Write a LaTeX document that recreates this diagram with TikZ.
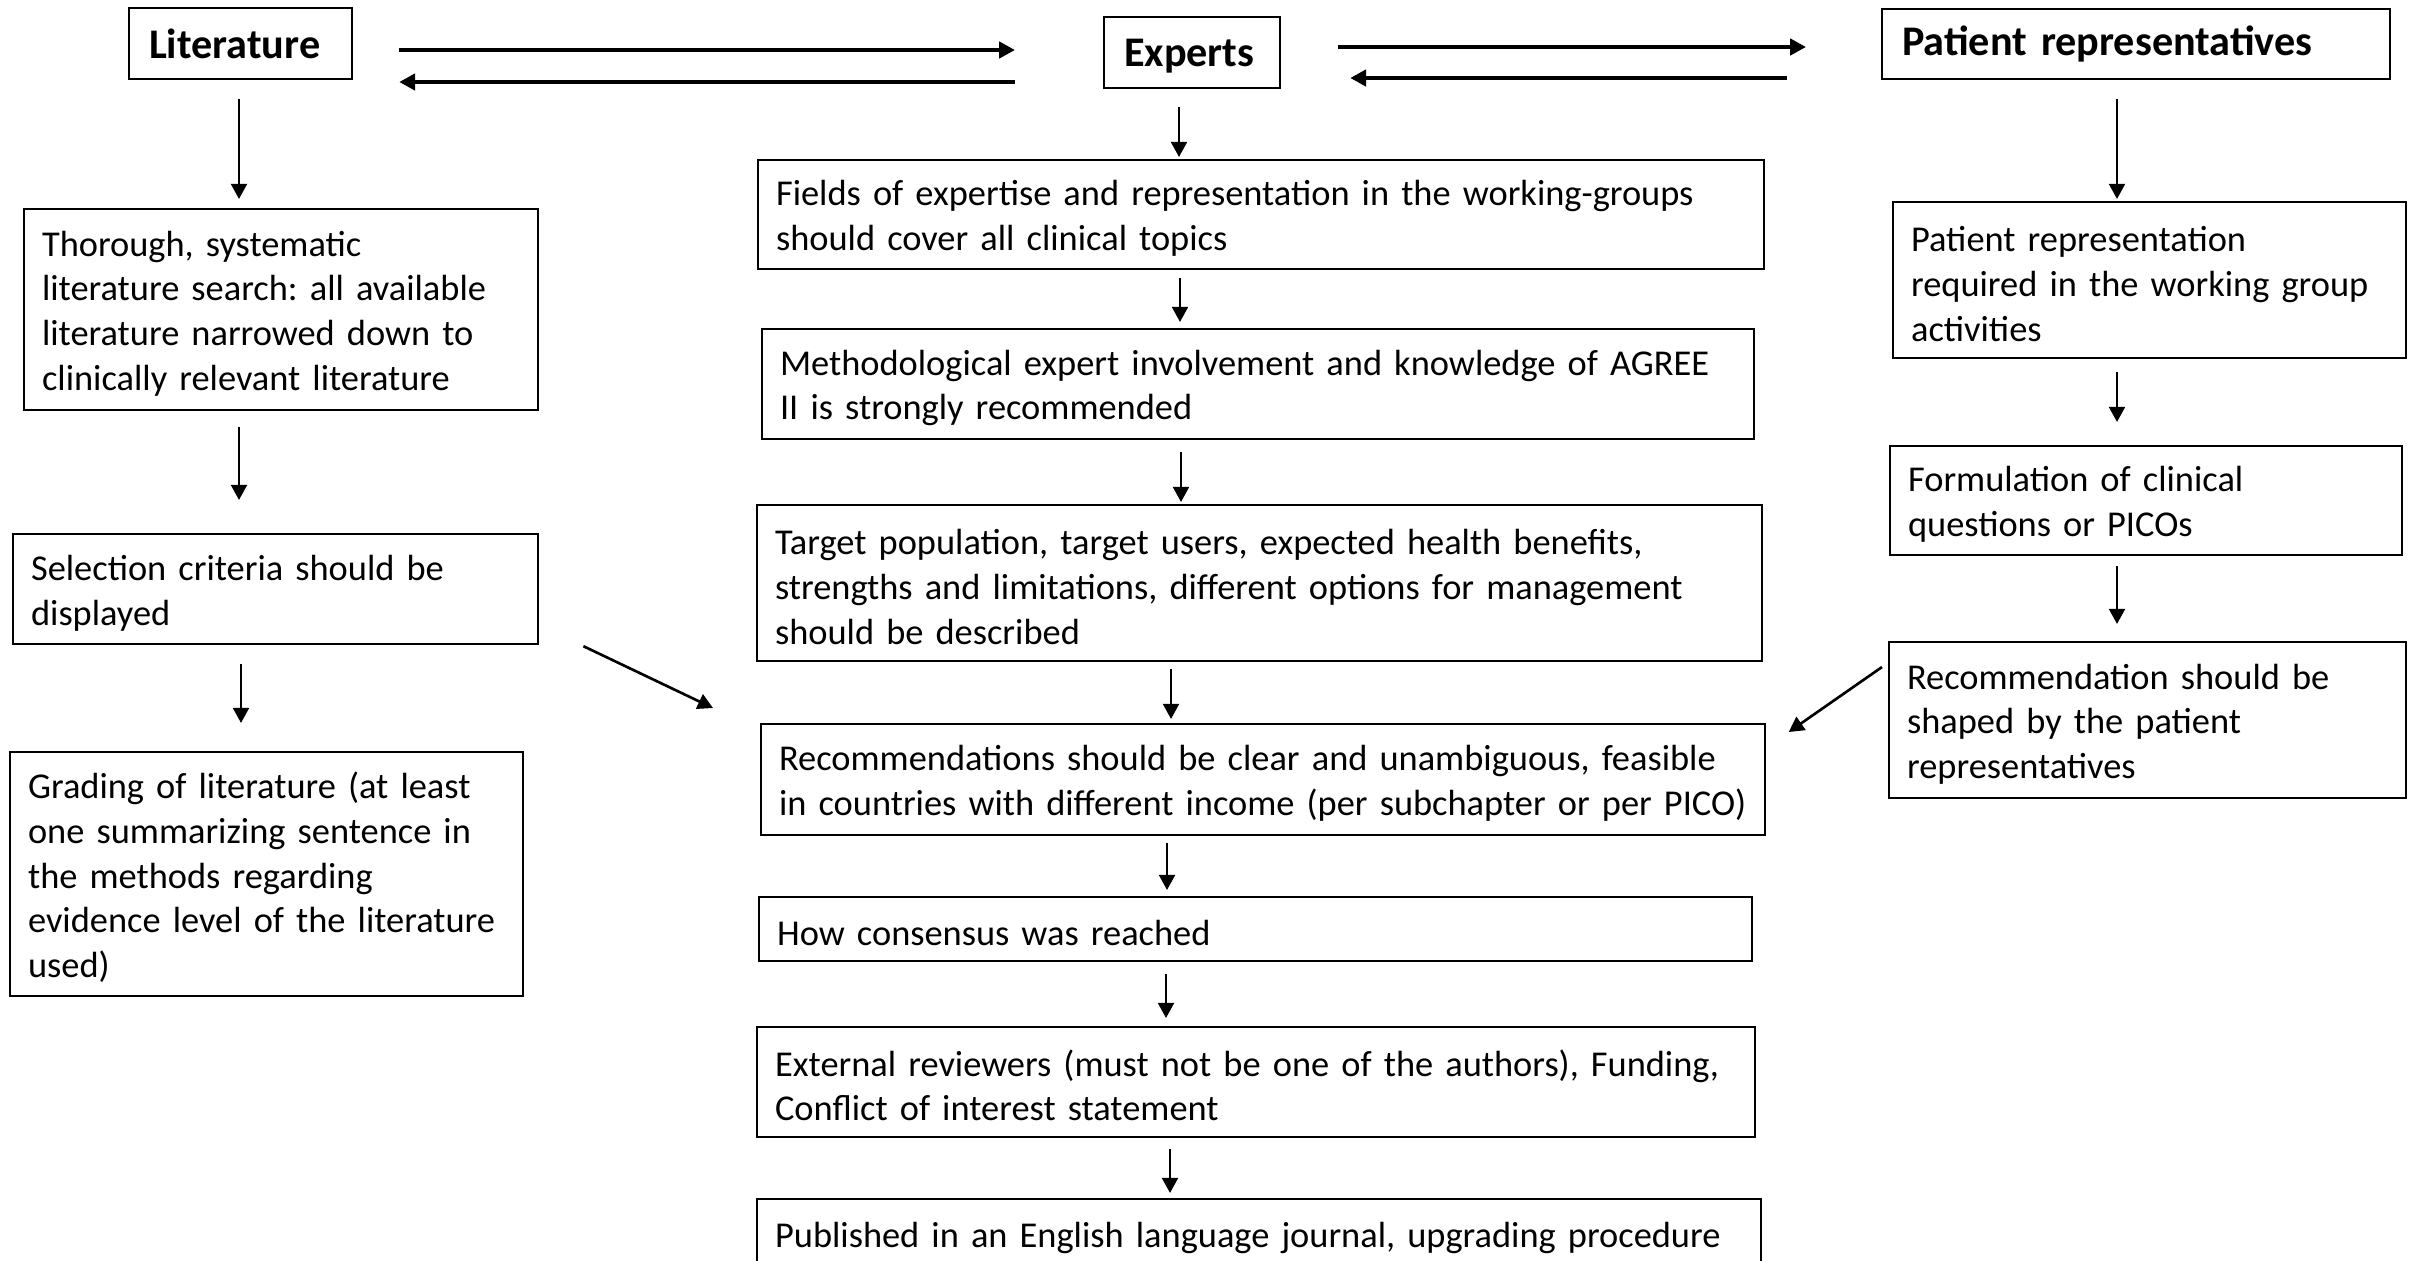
\documentclass[tikz,border=0pt]{standalone}
\usepackage{fontspec}
\setmainfont{Carlito}
\usepackage{tikz}
\usetikzlibrary{positioning,calc,arrows.meta}
\frenchspacing

\tikzset{
    head/.style={draw, line width=0.6pt, anchor=north west, align=left, inner xsep=0.2cm,
        font=\fontsize{12}{14}\selectfont\bfseries},
    card/.style={draw, line width=0.6pt, anchor=north west, align=left, inner xsep=0.18cm,
        inner ysep=1pt, text height=9.4pt, font=\fontsize{10.35}{12.7}\selectfont},
    arr/.style={-{Triangle[length=4.3pt,width=4.5pt]}, line width=0.75pt},
    duo/.style={-{Triangle[length=4.5pt,width=4.6pt]}, line width=1.1pt}
}

\begin{document}
\begin{tikzpicture}[x=0.01cm, y=-0.01cm]
    \useasboundingbox (0,0) rectangle (2415,1260);

    % Headers
    \node[head, text width=1.83cm, minimum height=0.71cm] (lit) at (128,7) {Literature};
    \node[head, text width=1.36cm, minimum height=0.71cm, text height=9.6pt] (exp) at (1103,16) {Experts};
    \node[head, text width=4.68cm, minimum height=0.70cm] (pat) at (1881,8) {Patient representatives};

    % Literature column
    \node[card, text width=4.78cm, minimum height=2.01cm] (l1) at (23,208)
        {Thorough, systematic\\literature search: all available\\literature narrowed down to\\clinically relevant literature};
    \node[card, text width=4.89cm, minimum height=1.10cm] (l2) at (12,533)
        {Selection criteria should be\\displayed};
    \node[card, text width=4.77cm, minimum height=2.44cm] (l3) at (9,751)
        {Grading of literature (at least\\one summarizing sentence in\\the methods regarding\\evidence level of the literature\\used)};

    % Experts column
    \node[card, text width=9.69cm, minimum height=1.09cm] (m1) at (757,159)
        {Fields of expertise and representation in the working-groups\\should cover all clinical topics};
    \node[card, text width=9.55cm, minimum height=1.10cm] (m2) at (761,328)
        {Methodological expert involvement and  knowledge of AGREE\\II is strongly recommended};
    \node[card, text width=9.68cm, minimum height=1.56cm] (m3) at (756,504)
        {Target population, target users, expected health benefits,\\strengths and limitations, different options for management\\should be described};
    \node[card, text width=9.67cm, minimum height=1.11cm] (m4) at (760,723)
        {Recommendations should be clear and unambiguous, feasible\\in countries with different income (per subchapter or per PICO)};
    \node[card, text width=9.56cm, minimum height=0.64cm] (m5) at (758,896)
        {How consensus was reached};
    \node[card, text width=9.61cm, minimum height=1.10cm] (m6) at (756,1026)
        {External reviewers (must not be one of the authors), Funding,\\Conflict of interest statement};
    \node[card, text width=9.67cm, minimum height=0.70cm] (m7) at (756,1198)
        {Published in an English language journal, upgrading procedure};

    % Patient column
    \node[card, text width=4.77cm, minimum height=1.56cm] (r1) at (1892,201)
        {Patient representation\\required in the working group\\activities};
    \node[card, text width=4.76cm, minimum height=1.09cm] (r2) at (1889,445)
        {Formulation of clinical\\questions or PICOs};
    \node[card, text width=4.81cm, minimum height=1.56cm] (r3) at (1888,641)
        {Recommendation should be\\shaped by the patient\\representatives};

    % Arrows between headers
    \draw[duo, shorten <=0.46cm, shorten >=0.88cm] (lit.east |- 0,50) -- (exp.west |- 0,50);
    \draw[duo, shorten <=0.88cm, shorten >=0.46cm] (exp.west |- 0,82) -- (lit.east |- 0,82);
    \draw[duo, shorten <=0.57cm, shorten >=0.75cm] (exp.east |- 0,47) -- (pat.west |- 0,47);
    \draw[duo, shorten <=0.94cm, shorten >=0.69cm] (pat.west |- 0,78) -- (exp.east |- 0,78);

    % Down arrows
    \foreach \a/\b/\x/\s/\e in {lit/l1/239/0.19/0.09, l1/l2/239/0.16/0.33, l2/l3/241/0.19/0.28,
        exp/m1/1179/0.18/0.02, m1/m2/1180/0.08/0.06, m2/m3/1181/0.12/0.02, m3/m4/1171/0.07/0.04,
        m4/m5/1167/0.07/0.06, m5/m6/1166/0.12/0.08, m6/m7/1170/0.11/0.05,
        pat/r1/2117/0.19/0.02, r1/r2/2117/0.13/0.23, r2/r3/2117/0.10/0.17} {
        \draw[arr, shorten <=\s cm, shorten >=\e cm] (\a.south -| \x,0) -- (\b.north -| \x,0);
    }

    % Side arrows into recommendations
    \draw[arr] ([shift={(44,1)}]l2.south east) -- ([shift={(-47,-15)}]m4.north west);
    \draw[arr] ([shift={(-6,26)}]r3.north west) -- ([shift={(23,9)}]m4.north east);
\end{tikzpicture}
\end{document}
